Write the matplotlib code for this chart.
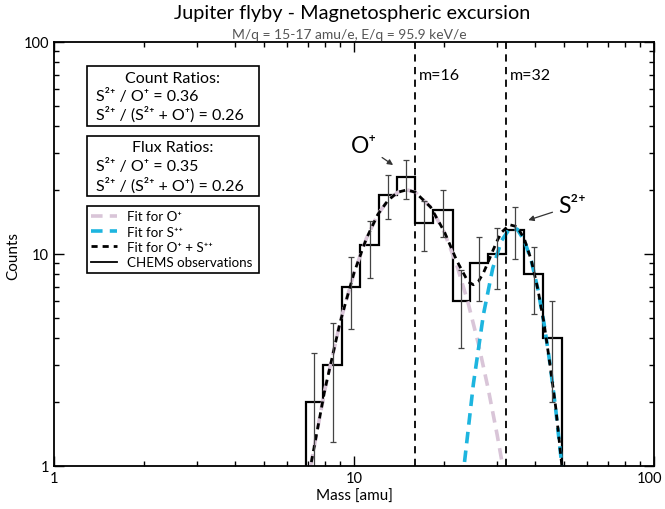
import matplotlib.pyplot as plt
import matplotlib.transforms as mtransforms
from matplotlib.lines import Line2D
from matplotlib.patches import Rectangle
from matplotlib.ticker import NullFormatter

plt.rcParams['font.family'] = ['Lato', 'DejaVu Sans']

# CHEMS histogram (bin edges in amu, counts per bin, Poisson errors)
bin_edges = [6.9, 7.9, 9.1, 10.5, 12.1, 13.9, 16.0, 18.4, 21.3, 24.4, 28.0, 32.1, 37.0, 42.7, 49.2]
counts = [2, 3, 7, 11, 19, 23, 14, 16, 6, 9, 10, 13, 8, 4]
count_err = [1.4, 1.7, 2.6, 3.3, 4.4, 4.8, 3.7, 4.0, 2.4, 3.0, 3.2, 3.6, 2.8, 2.0]

# fit curves
fit_o_mass = [7.0, 7.2, 8, 9, 10, 11, 12, 13, 14, 15, 16, 18, 20, 22, 24, 26, 28, 30, 31.3, 32]
fit_o_counts = [0.82, 1.03, 2.29, 4.78, 8.12, 11.8, 15.3, 17.9, 19.5, 20.0, 19.5, 16.6, 12.6,
                8.85, 5.87, 3.74, 2.31, 1.40, 1.0, 0.83]

fit_s_mass = [23.0, 23.3, 25, 27, 29, 31, 33, 35, 37, 39, 41, 43, 45, 47, 49.3, 50]
fit_s_counts = [0.85, 1.01, 2.43, 5.16, 8.53, 11.5, 13.1, 13.05, 11.5, 9.25, 6.82, 4.69,
                3.03, 1.86, 1.0, 0.8]

fit_sum_mass = [7.0, 7.2, 8, 9, 10, 11, 12, 13, 14, 15, 16, 18, 20, 22, 24, 25, 26, 27, 28,
                29, 30, 31, 33, 35, 37, 39, 41, 43, 45, 47, 49.3, 50]
fit_sum_counts = [0.82, 1.03, 2.29, 4.78, 8.12, 11.8, 15.3, 17.9, 19.5, 20.0, 19.5, 16.6, 12.7,
                  9.28, 7.37, 7.14, 7.41, 8.11, 9.13, 10.3, 11.5, 12.6, 13.7, 13.4, 11.7, 9.3,
                  6.8, 4.7, 3.0, 1.9, 1.0, 0.8]

ref_masses = [16, 32]
ref_labels = ['m=16', 'm=32']

pink = '#d9c5d8'
cyan = '#1db5df'

fig = plt.figure(figsize=(6.65, 5.1), dpi=100)
ax = fig.add_axes([54/665, 43.3/510, 600/665, 424/510])

ax.plot(fit_o_mass, fit_o_counts, color=pink, lw=2.6, dashes=(3.2, 2.0))
ax.plot(fit_s_mass, fit_s_counts, color=cyan, lw=2.6, dashes=(3.2, 2.0))
ax.plot(fit_sum_mass, fit_sum_counts, color='black', lw=2.0, dashes=(2.2, 1.8))

ax.stairs(counts, bin_edges, baseline=0.1, color='black', lw=1.6)

centers = [(bin_edges[i] * bin_edges[i + 1]) ** 0.5 for i in range(len(counts))]
ax.errorbar(centers, counts, yerr=count_err, fmt='none', ecolor='#444444',
            elinewidth=0.9, capsize=2.5, capthick=0.9)

for m, lab in zip(ref_masses, ref_labels):
    ax.axvline(m, color='black', lw=1.3, dashes=(4, 3))
    ax.text(m * 1.03, 70, lab, fontsize=11.5, ha='left', va='center')

ax.set_xscale('log')
ax.set_yscale('log')
ax.set_xlim(1, 100)
ax.set_ylim(1, 100)
ax.set_xticks([1, 10, 100])
ax.set_xticklabels(['1', '10', '100'])
ax.set_yticks([1, 10, 100])
ax.set_yticklabels(['1', '10', '100'])
ax.xaxis.set_minor_formatter(NullFormatter())
ax.yaxis.set_minor_formatter(NullFormatter())
ax.tick_params(which='both', direction='in', top=True, right=True, labelsize=10.5)
ax.tick_params(which='major', length=7, width=1)
ax.tick_params(which='minor', length=3.8, width=1)
ax.tick_params(axis='x', pad=4)
for s in ax.spines.values():
    s.set_linewidth(1.3)

# keep the "100" label inside the figure
last = ax.get_xticklabels()[-1]
last.set_transform(last.get_transform() + mtransforms.ScaledTranslation(-4/100, 0, fig.dpi_scale_trans))

# peak labels
ax.annotate('O⁺', xy=(13.5, 26.2), xytext=(10.8, 32.5), fontsize=16.5, ha='center', va='center',
            arrowprops=dict(arrowstyle='-|>', color='#333333', lw=0.9, mutation_scale=8,
                            shrinkA=2, shrinkB=0))
ax.annotate('S²⁺', xy=(38.1, 14.4), xytext=(53.2, 16.8), fontsize=16.5, ha='center', va='center',
            arrowprops=dict(arrowstyle='-|>', color='#333333', lw=0.9, mutation_scale=8,
                            shrinkA=2, shrinkB=0))

# ratio boxes
box_x, box_w = 0.0545, 0.2877
ax.add_patch(Rectangle((box_x, 0.8005), box_w, 0.1429, transform=ax.transAxes,
                       fill=False, lw=1.2, ec='black'))
ax.add_patch(Rectangle((box_x, 0.6354), box_w, 0.1415, transform=ax.transAxes,
                       fill=False, lw=1.2, ec='black'))
ax.text(0.1983, 0.9137, 'Count Ratios:', transform=ax.transAxes, ha='center', va='center', fontsize=11.5)
ax.text(0.07, 0.8726, 'S²⁺ / O⁺ = 0.36', transform=ax.transAxes, ha='left', va='center', fontsize=11.5)
ax.text(0.07, 0.8295, 'S²⁺ / (S²⁺ + O⁺) = 0.26', transform=ax.transAxes, ha='left', va='center', fontsize=11.5)
ax.text(0.1983, 0.751, 'Flux Ratios:', transform=ax.transAxes, ha='center', va='center', fontsize=11.5)
ax.text(0.07, 0.7075, 'S²⁺ / O⁺ = 0.35', transform=ax.transAxes, ha='left', va='center', fontsize=11.5)
ax.text(0.07, 0.662, 'S²⁺ / (S²⁺ + O⁺) = 0.26', transform=ax.transAxes, ha='left', va='center', fontsize=11.5)

handles = [
    Line2D([], [], color=pink, lw=2.6, dashes=(3.2, 2.0)),
    Line2D([], [], color=cyan, lw=2.6, dashes=(3.2, 2.0)),
    Line2D([], [], color='black', lw=2.0, dashes=(2.2, 1.8)),
    Line2D([], [], color='black', lw=1.3),
]
labels = ['Fit for O⁺', 'Fit for S⁺⁺', 'Fit for O⁺ + S⁺⁺', 'CHEMS observations']
leg = ax.legend(handles, labels, loc='upper left', bbox_to_anchor=(box_x, 0.4561, box_w, 0.1571),
                mode='expand', borderaxespad=0, fontsize=9.6, frameon=True, fancybox=False,
                framealpha=1, edgecolor='black', handlelength=1.9, handletextpad=0.8,
                labelspacing=0.25, borderpad=0.35)
leg.get_frame().set_linewidth(1.2)

fig.text(352/665, 1 - 13/510, 'Jupiter flyby - Magnetospheric excursion', ha='center', va='center', fontsize=14.3)
fig.text(349/665, 1 - 35/510, 'M/q = 15-17 amu/e, E/q = 95.9 keV/e', ha='center', va='center',
         fontsize=10, color='#555555')
fig.text(354/665, 1 - 497/510, 'Mass [amu]', ha='center', va='center', fontsize=11)
fig.text(13/665, 1 - 256/510, 'Counts', ha='center', va='center', fontsize=11, rotation=90)

fig.savefig('out.png', dpi=100)
